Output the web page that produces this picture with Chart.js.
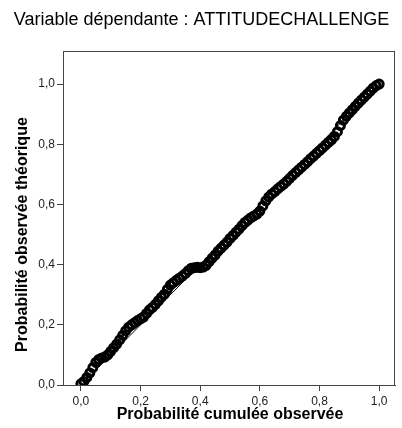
<!DOCTYPE html>
<html>
<head>
<meta charset="utf-8">
<script src="https://cdn.jsdelivr.net/npm/chart.js@4.4.1/dist/chart.umd.min.js"></script>
<style>
  html, body { margin: 0; padding: 0; background: #fff; }
  #wrap { width: 402px; height: 428px; }
</style>
</head>
<body>
<div id="wrap"><canvas id="myChart"></canvas></div>
<script>
// Probabilité cumulée observée (x) / Probabilité observée théorique (y)
var obsX = [0.00, 0.01, 0.02, 0.03, 0.04, 0.05, 0.06, 0.07, 0.08, 0.09,
            0.10, 0.11, 0.12, 0.13, 0.14, 0.15, 0.16, 0.17, 0.18, 0.19,
            0.20, 0.21, 0.22, 0.23, 0.24, 0.25, 0.26, 0.27, 0.28, 0.29,
            0.30, 0.31, 0.32, 0.33, 0.34, 0.35, 0.36, 0.37, 0.38, 0.39,
            0.40, 0.41, 0.42, 0.43, 0.44, 0.45, 0.46, 0.47, 0.48, 0.49,
            0.50, 0.51, 0.52, 0.53, 0.54, 0.55, 0.56, 0.57, 0.58, 0.59,
            0.60, 0.61, 0.62, 0.63, 0.64, 0.65, 0.66, 0.67, 0.68, 0.69,
            0.70, 0.71, 0.72, 0.73, 0.74, 0.75, 0.76, 0.77, 0.78, 0.79,
            0.80, 0.81, 0.82, 0.83, 0.84, 0.85, 0.86, 0.87, 0.88, 0.89,
            0.90, 0.91, 0.92, 0.93, 0.94, 0.95, 0.96, 0.97, 0.98, 0.99, 1.00];
var theoY = [0.004, 0.012, 0.025, 0.040, 0.058, 0.075, 0.085, 0.090, 0.093, 0.100,
             0.112, 0.124, 0.136, 0.150, 0.165, 0.180, 0.192, 0.200, 0.207, 0.214,
             0.220, 0.226, 0.238, 0.250, 0.258, 0.268, 0.280, 0.292, 0.302, 0.318,
             0.332, 0.340, 0.348, 0.355, 0.362, 0.370, 0.380, 0.388, 0.390, 0.391,
             0.390, 0.392, 0.398, 0.410, 0.422, 0.432, 0.445, 0.455, 0.465, 0.475,
             0.487, 0.497, 0.508, 0.518, 0.530, 0.540, 0.548, 0.556, 0.562, 0.568,
             0.578, 0.595, 0.612, 0.625, 0.635, 0.643, 0.652, 0.660, 0.668, 0.677,
             0.687, 0.697, 0.706, 0.715, 0.724, 0.733, 0.742, 0.752, 0.761, 0.770,
             0.779, 0.788, 0.797, 0.806, 0.815, 0.826, 0.842, 0.862, 0.880, 0.893,
             0.904, 0.915, 0.926, 0.937, 0.947, 0.957, 0.967, 0.977, 0.987, 0.995, 1.000];
var refLine = [[0, 0], [1, 1]];
var tickValues = [0.0, 0.2, 0.4, 0.6, 0.8, 1.0];

var chartTitle = 'Variable dépendante : ATTITUDECHALLENGE';
var xTitle = 'Probabilité cumulée observée';
var yTitle = 'Probabilité observée théorique';

var FONT = "'Liberation Sans', Arial, sans-serif";

var points = obsX.map(function(x, i) { return { x: x, y: theoY[i] }; });
var linePts = refLine.map(function(p) { return { x: p[0], y: p[1] }; });

// cadre + titres des axes (centrés sur 0..1 comme SPSS)
var framePlugin = {
    id: 'frame',
    afterDraw: function(chart) {
        var ctx = chart.ctx;
        var a = chart.chartArea;
        var xs = chart.scales.x, ys = chart.scales.y;
        ctx.save();
        ctx.strokeStyle = '#444';
        ctx.lineWidth = 1;
        ctx.strokeRect(Math.round(a.left) + 0.5, Math.round(a.top) + 0.5,
                       Math.round(a.right - a.left) - 1, Math.round(a.bottom - a.top));
        ctx.fillStyle = '#000';
        ctx.font = 'bold 16px ' + FONT;
        ctx.textAlign = 'center';
        ctx.textBaseline = 'middle';
        ctx.fillText(xTitle, xs.getPixelForValue(0.5), 415);
        ctx.translate(23, ys.getPixelForValue(0.5));
        ctx.rotate(-Math.PI / 2);
        ctx.fillText(yTitle, 0, 0);
        ctx.restore();
    }
};

var ctx = document.getElementById('myChart').getContext('2d');
var chart = new Chart(ctx, {
    type: 'scatter',
    data: {
        datasets: [{
            type: 'line',
            label: 'ref',
            data: linePts,
            borderColor: '#000',
            borderWidth: 1,
            pointRadius: 0,
            fill: false
        }, {
            label: 'obs',
            data: points,
            pointRadius: 4,
            pointBorderWidth: 3,
            borderColor: '#000',
            backgroundColor: 'rgba(0,0,0,0)'
        }]
    },
    options: {
        responsive: true,
        maintainAspectRatio: false,
        animation: false,
        layout: {
            padding: { left: 6, right: 5, top: 0, bottom: 0 }
        },
        scales: {
            x: {
                type: 'linear',
                min: -0.06,
                max: 1.053,
                afterBuildTicks: function(scale) {
                    scale.ticks = tickValues.map(function(v) { return { value: v }; });
                },
                afterFit: function(scale) { scale.height = 43; },
                grid: {
                    drawOnChartArea: false,
                    drawTicks: true,
                    tickLength: 6,
                    color: '#444'
                },
                border: { display: true, color: '#444' },
                ticks: {
                    padding: 3,
                    color: '#222',
                    font: { family: FONT, size: 12 },
                    callback: function(v) { return v.toFixed(1).replace('.', ','); }
                }
            },
            y: {
                type: 'linear',
                min: 0,
                max: 1.11,
                afterBuildTicks: function(scale) {
                    scale.ticks = tickValues.map(function(v) { return { value: v }; });
                },
                afterFit: function(scale) { scale.width = 57; },
                grid: {
                    drawOnChartArea: false,
                    drawTicks: true,
                    tickLength: 6,
                    color: '#444'
                },
                border: { display: true, color: '#444' },
                ticks: {
                    padding: 2,
                    color: '#222',
                    font: { family: FONT, size: 12 },
                    callback: function(v) { return v.toFixed(1).replace('.', ','); }
                }
            }
        },
        plugins: {
            legend: { display: false },
            tooltip: { enabled: false },
            title: {
                display: true,
                text: chartTitle,
                color: '#000',
                font: { family: FONT, size: 18, weight: 'normal' },
                padding: { top: 9, bottom: 20.4 }
            }
        }
    },
    plugins: [framePlugin]
});
</script>
</body>
</html>
